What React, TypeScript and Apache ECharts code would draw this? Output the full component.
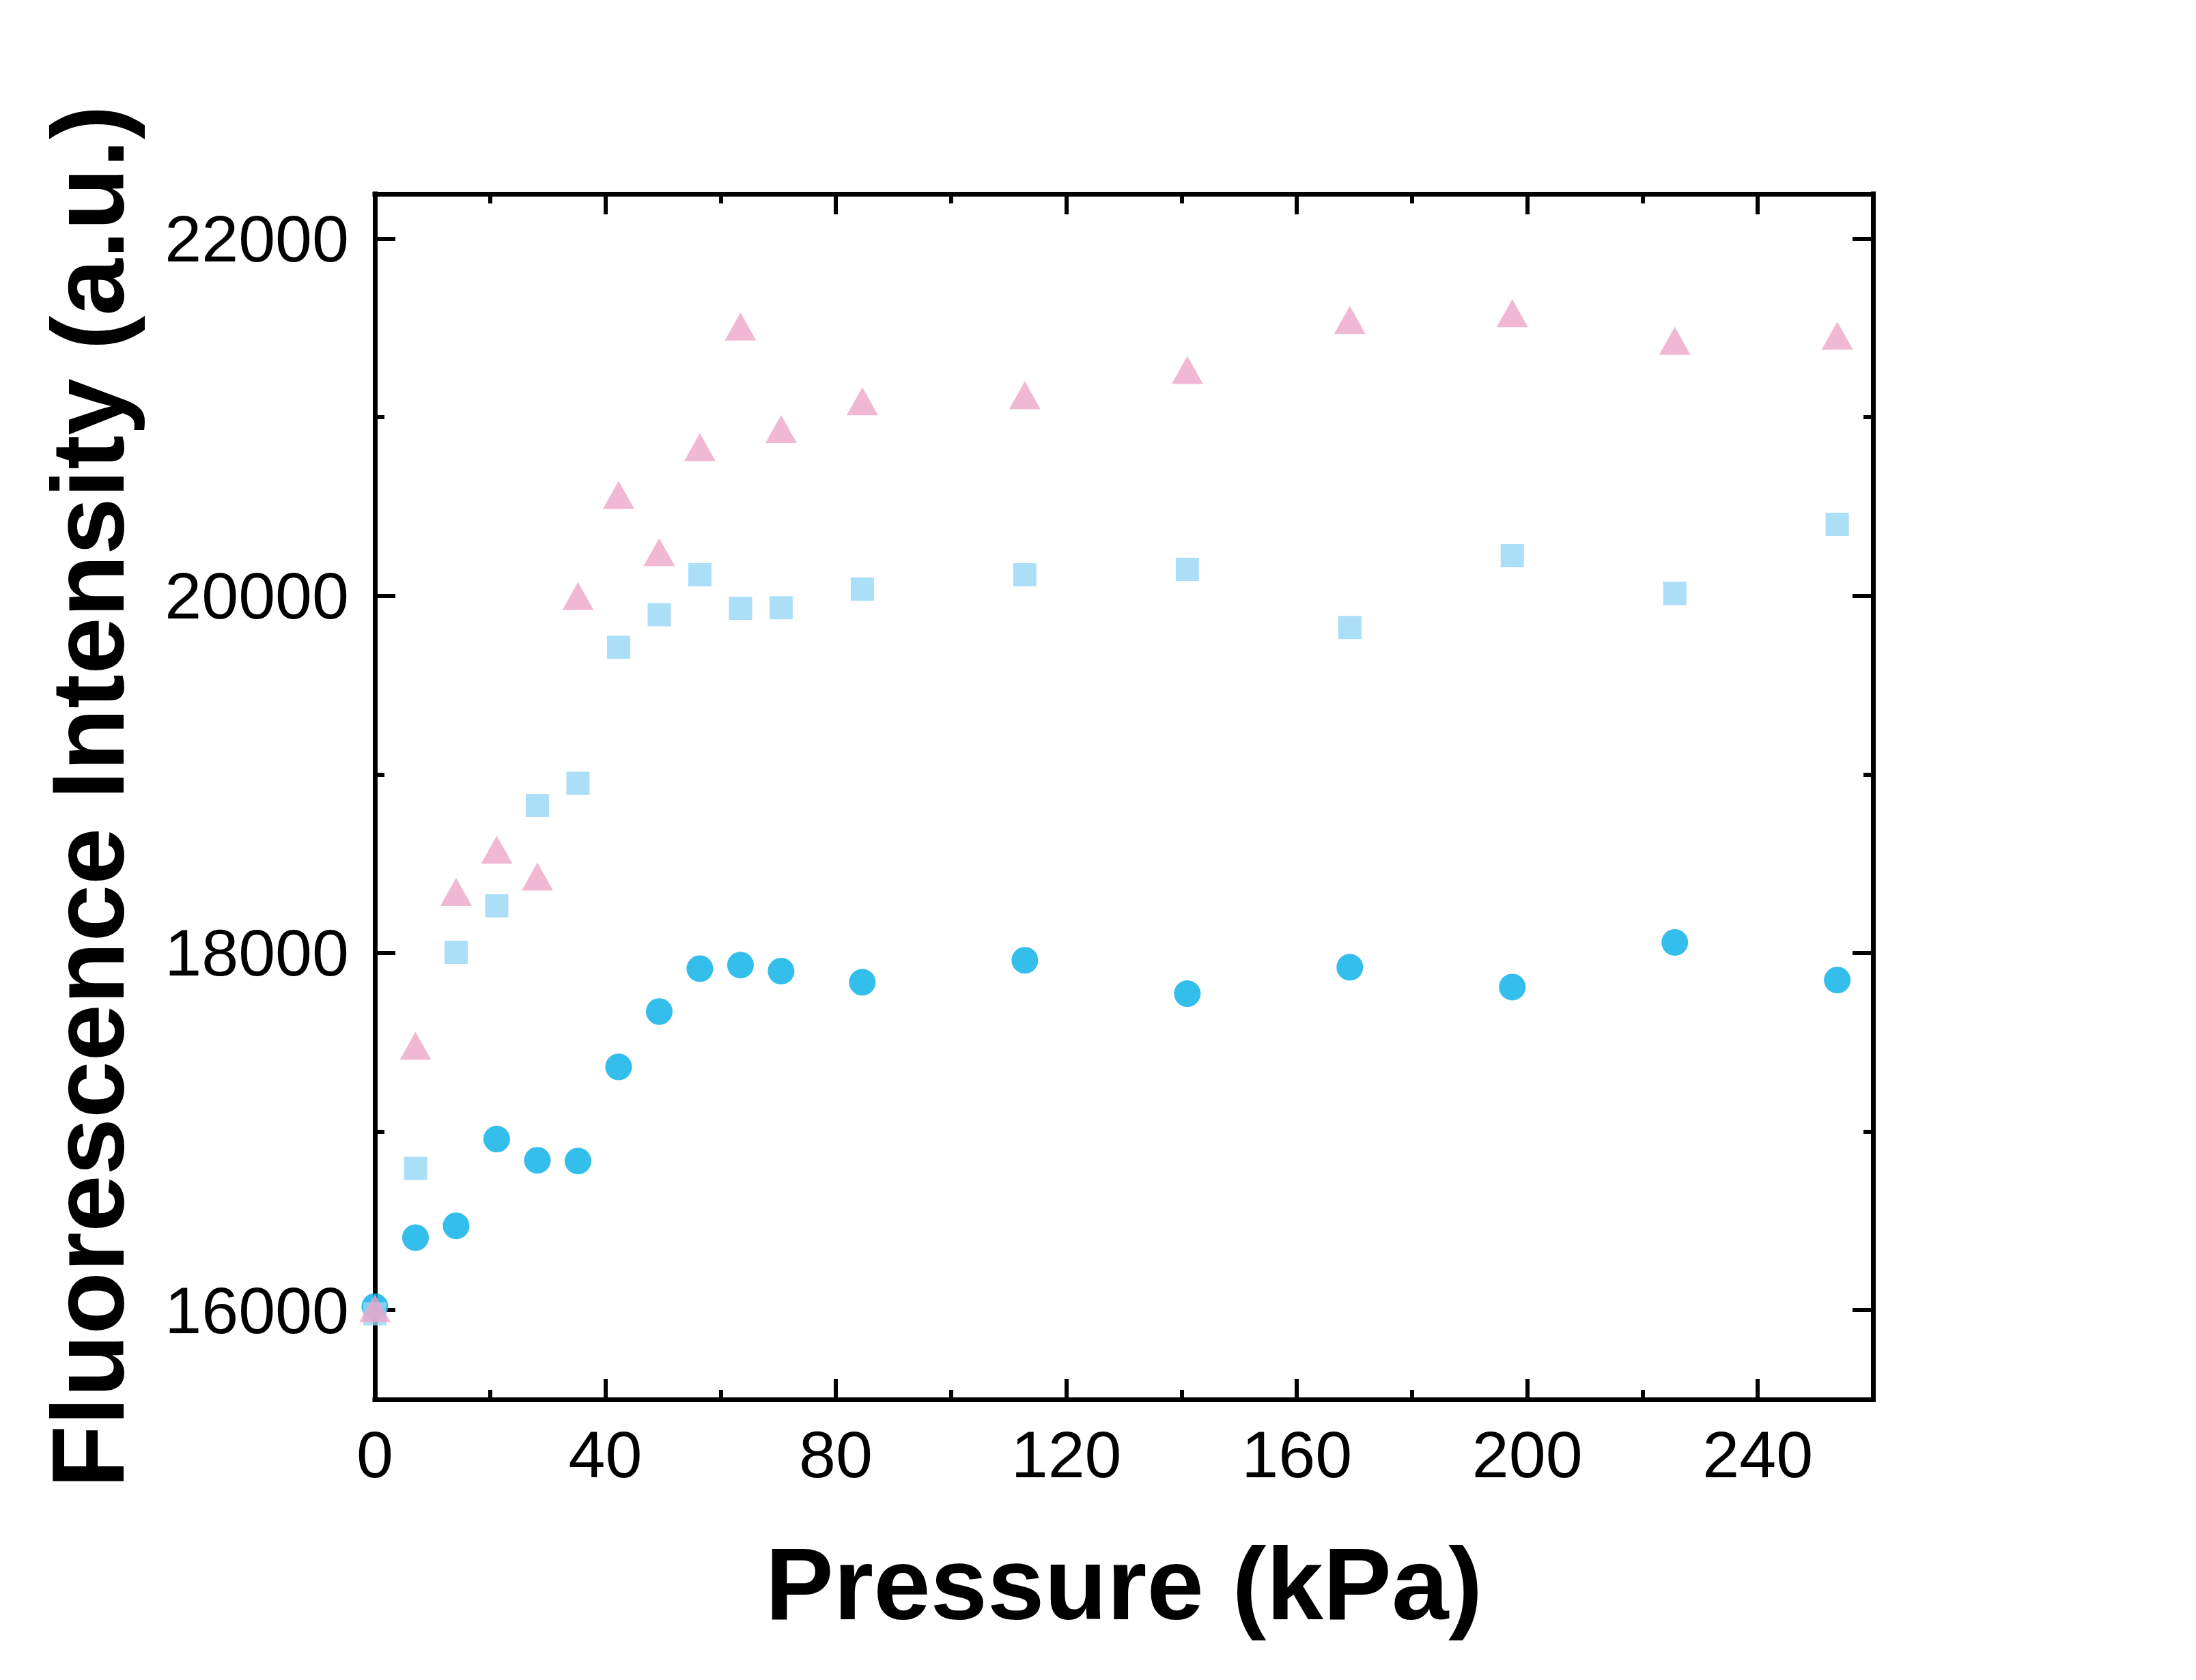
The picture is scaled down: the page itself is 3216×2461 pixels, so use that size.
import React, { useEffect, useRef } from "react";
import * as echarts from "echarts";

// Pressure (kPa)
const pressure = [0, 7.05, 14.1, 21.15, 28.2, 35.25, 42.3, 49.35, 56.4, 63.45, 70.5, 84.6, 112.8, 141, 169.2, 197.4, 225.6, 253.8];
// Fluorescence intensity (a.u.)
const circleValues = [16020, 16406, 16472, 16958, 16839, 16835, 17362, 17672, 17912, 17932, 17898, 17836, 17959, 17772, 17920, 17809, 18059, 17848];
const squareValues = [15980, 16794, 18004, 18263, 18825, 18950, 19711, 19894, 20117, 19930, 19933, 20037, 20117, 20148, 19822, 20224, 20013, 20400];
const triangleValues = [16010, 17480, 18342, 18578, 18428, 19998, 20564, 20244, 20832, 21508, 20933, 21089, 21122, 21264, 21544, 21582, 21427, 21456];

const xMajorTicks = [0, 40, 80, 120, 160, 200, 240];
const xMinorTicks = [20, 60, 100, 140, 180, 220];
const yMajorTicks = [16000, 18000, 20000, 22000];
const yMinorTicks = [17000, 19000, 21000];

const X_MIN = 0;
const X_MAX = 260;
const Y_MIN = 15500;
const Y_MAX = 22250;

const FONT = "'Liberation Sans', Arial, Helvetica, sans-serif";

function pairs(xs: number[], ys: number[]) {
  return xs.map((x, i) => [x, ys[i]]);
}

const plain = (v: number) => String(v);

function makeXAxis(gridIndex: number, position: string, ticks: number[], len: number, main: boolean, labels: boolean, name?: string) {
  const ax: any = {
    type: "value",
    gridIndex,
    position,
    min: X_MIN,
    max: X_MAX,
    axisLine: { show: main, onZero: false, lineStyle: { color: "#000", width: 7, cap: "square" } },
    axisTick: { show: true, inside: true, length: len, customValues: ticks, lineStyle: { color: "#000", width: 6 } },
    axisLabel: labels
      ? { show: true, customValues: ticks, formatter: plain, margin: 32, color: "#000", fontSize: 97, fontFamily: FONT }
      : { show: false },
    splitLine: { show: false },
  };
  if (name) {
    ax.name = name;
    ax.nameLocation = "middle";
    ax.nameGap = 195;
    ax.nameTextStyle = { color: "#000", fontSize: 150, fontWeight: "bold", fontFamily: FONT };
  }
  return ax;
}

function makeYAxis(gridIndex: number, position: string, ticks: number[], len: number, main: boolean, labels: boolean, name?: string) {
  const ax: any = {
    type: "value",
    gridIndex,
    position,
    min: Y_MIN,
    max: Y_MAX,
    axisLine: { show: main, onZero: false, lineStyle: { color: "#000", width: 7, cap: "square" } },
    axisTick: { show: true, inside: true, length: len, customValues: ticks, lineStyle: { color: "#000", width: 6 } },
    axisLabel: labels
      ? { show: true, customValues: ticks, formatter: plain, margin: 38, color: "#000", fontSize: 97, fontFamily: FONT }
      : { show: false },
    splitLine: { show: false },
  };
  if (name) {
    ax.name = name;
    ax.nameLocation = "middle";
    ax.nameGap = 345;
    ax.nameTextStyle = { color: "#000", fontSize: 150, fontWeight: "bold", fontFamily: FONT };
  }
  return ax;
}

export default function App() {
  const ref = useRef<HTMLDivElement>(null);

  useEffect(() => {
    document.body.style.margin = "0";
    if (!ref.current) return;
    const chart = echarts.init(ref.current, null, { renderer: "svg" });
    const gridRect = { left: 549, top: 284, width: 2194, height: 1766 };
    const option: any = {
      animation: false,
      backgroundColor: "#fff",
      grid: [gridRect, gridRect],
      xAxis: [
        makeXAxis(0, "bottom", xMajorTicks, 30, true, true, "Pressure (kPa)"),
        makeXAxis(0, "top", xMajorTicks, 30, true, false),
        makeXAxis(1, "bottom", xMinorTicks, 14, false, false),
        makeXAxis(1, "top", xMinorTicks, 14, false, false),
      ],
      yAxis: [
        makeYAxis(0, "left", yMajorTicks, 30, true, true, "Fluorescence Intensity (a.u.)"),
        makeYAxis(0, "right", yMajorTicks, 30, true, false),
        makeYAxis(1, "left", yMinorTicks, 14, false, false),
        makeYAxis(1, "right", yMinorTicks, 14, false, false),
      ],
      series: [
        {
          name: "circle",
          type: "scatter",
          xAxisIndex: 0,
          yAxisIndex: 0,
          symbol: "circle",
          symbolSize: 39,
          itemStyle: { color: "#00AEE6" },
          data: pairs(pressure, circleValues),
          z: 2,
        },
        {
          name: "square",
          type: "scatter",
          xAxisIndex: 0,
          yAxisIndex: 0,
          symbol: "rect",
          symbolSize: 34,
          itemStyle: { color: "#96D7F6" },
          data: pairs(pressure, squareValues),
          z: 3,
        },
        {
          name: "triangle",
          type: "scatter",
          xAxisIndex: 0,
          yAxisIndex: 0,
          symbol: "triangle",
          symbolSize: [46, 41],
          itemStyle: { color: "#EEA6C8" },
          data: pairs(pressure, triangleValues),
          z: 4,
        },
      ],
    };
    chart.setOption(option);
    return () => chart.dispose();
  }, []);

  return <div ref={ref} style={{ width: 3216, height: 2461 }} />;
}
